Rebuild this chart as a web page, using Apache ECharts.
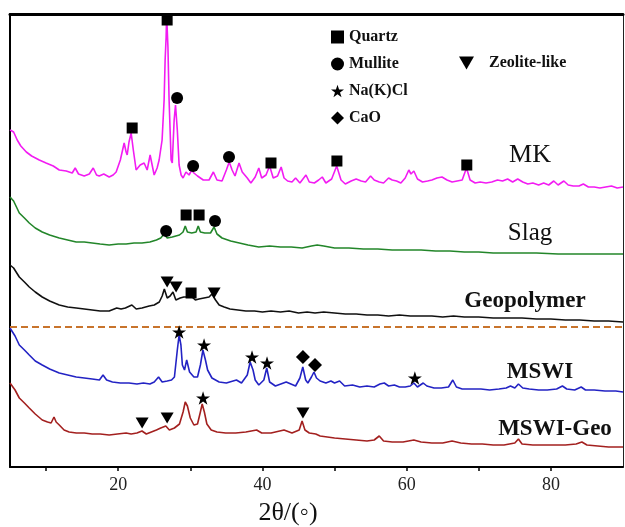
<!DOCTYPE html>
<html><head><meta charset="utf-8">
<script src="https://cdn.jsdelivr.net/npm/echarts@6/dist/echarts.min.js"></script>
<style>html,body{margin:0;padding:0;background:#fff}#c{width:625px;height:527px}</style>
</head><body><div id="c"></div>
<script>
// ---- data (2θ in degrees, relative intensity in arbitrary stacked units) ----
const xTicks = [10, 20, 30, 40, 50, 60, 70, 80];
const xTickLabels = [20, 40, 60, 80];
const traceNames = ['MK', 'Slag', 'Geopolymer', 'MSWI', 'MSWI-Geo'];
const separatorLevel = 140;

const mk = [[5.0,337],[5.5,335],[6.0,327],[6.5,321],[7.26,315],[8.0,311],[9.06,307],[10.0,304],[11.0,301],[11.83,297],[12.8,296],[13.63,294],[14.04,299],[14.5,293],[15.29,291],[16.0,293],[16.54,299],[17.0,292],[17.37,291],[18.0,293],[18.75,290],[19.3,292],[19.72,295],[20.3,307],[20.83,324],[21.1,315],[21.25,312],[21.5,325],[21.8,334],[22.1,317],[22.49,297],[23.05,302],[23.6,304],[24.02,297],[24.43,312],[24.99,292],[25.4,299],[25.68,307],[26.09,327],[26.37,367],[26.51,407],[26.65,430],[26.72,452],[26.9,420],[27.06,367],[27.34,307],[27.5,304],[27.76,347],[27.95,362],[28.2,337],[28.45,302],[28.73,292],[29.0,289],[29.4,295],[29.83,292],[30.2,297],[30.5,294],[31.0,291],[31.22,292],[31.8,287],[32.6,287],[33.2,295],[33.7,287],[34.4,286],[35.0,297],[35.4,305],[35.8,297],[36.2,291],[36.76,304],[37.2,295],[37.9,289],[38.4,284],[39.0,290],[39.5,299],[39.9,289],[40.5,292],[41.0,301],[41.5,289],[42.1,291],[42.6,300],[43.0,289],[43.5,286],[44.1,285],[44.6,289],[45.2,284],[46.04,292],[46.5,285],[47.2,284],[47.8,287],[48.3,290],[48.8,284],[49.6,288],[50.3,301],[50.9,287],[51.5,283],[52.3,286],[53.0,288],[53.7,286],[54.3,285],[55.0,291],[55.5,287],[56.2,285],[56.8,284],[57.5,289],[58.0,287],[58.6,286],[59.2,284],[59.8,289],[60.3,297],[60.6,293],[61.0,296],[61.5,288],[62.2,285],[62.9,286],[63.5,287],[64.2,289],[64.9,290],[65.6,287],[66.3,285],[67.0,286],[67.7,287],[68.3,299],[68.8,287],[69.5,284],[70.2,285],[71.0,284],[71.8,285],[72.6,287],[73.3,286],[74.0,288],[74.7,285],[75.4,288],[76.1,285],[76.8,283],[77.5,284],[78.3,282],[79.0,284],[79.7,282],[80.4,286],[81.0,282],[81.8,286],[82.4,282],[83.1,281],[83.9,281],[84.5,283],[85.2,280],[86.0,280],[86.8,279],[87.6,280],[88.4,281],[89.2,279],[90.0,280]];

const slag = [[5.0,270],[5.5,266],[6.29,254],[7.0,249],[7.67,244],[8.5,239],[9.47,235],[10.5,232],[11.83,229],[13.0,227],[14.18,225],[15.3,225],[16.4,224],[17.5,223],[18.75,222],[20.0,223],[21.1,223],[22.2,224],[23.3,224],[24.4,225],[25.3,227],[25.9,229],[26.37,233],[26.8,229],[27.5,230],[28.5,232],[29.0,235],[29.3,241],[29.6,235],[30.2,234],[30.8,235],[31.1,241],[31.4,235],[32.0,234],[32.8,234],[33.3,240],[33.7,233],[34.4,229],[35.6,226],[36.8,224],[38.0,222],[39.5,220],[41.0,221],[42.5,220],[44.0,220],[45.5,219],[46.8,221],[47.6,222],[48.5,221],[50.0,219],[52.0,219],[54.0,218],[56.0,218],[58.0,217],[60.0,217],[62.0,217],[64.0,216],[66.0,216],[68.0,215],[70.0,215],[72.0,214],[75.0,214],[78.0,214],[81.0,213],[84.0,213],[87.0,213],[90.0,213]];

const geopolymer = [[5.0,202],[5.5,199],[6.29,190],[7.0,185],[7.67,180],[8.5,175],[9.47,170],[10.5,166],[11.83,162],[13.0,160],[14.18,159],[15.3,158],[16.4,157],[17.5,156],[18.75,156],[19.8,159],[20.4,158],[21.0,159],[21.9,162],[22.5,158],[23.3,159],[24.3,161],[25.0,162],[25.7,165],[26.1,171],[26.4,178],[26.8,169],[27.2,171],[27.6,175],[28.0,167],[28.6,169],[29.1,170],[29.7,170],[30.1,171],[30.7,167],[31.2,168],[31.9,169],[32.6,170],[33.0,173],[33.5,167],[34.0,162],[34.7,160],[35.5,158],[36.6,157],[37.7,156],[38.9,156],[40.0,155],[41.2,156],[42.5,155],[43.7,156],[45.0,154],[46.2,155],[47.3,154],[48.5,155],[50.0,154],[51.5,153],[53.0,153],[54.5,152],[56.0,152],[57.5,151],[59.0,152],[60.5,151],[62.0,151],[63.5,151],[65.0,150],[66.5,151],[68.0,150],[70.0,150],[72.0,149],[74.0,149],[76.0,149],[78.0,148],[80.0,148],[82.0,147],[84.0,147],[86.0,146],[88.0,146],[90.0,145]];

const mswi = [[5.0,139],[5.2,137],[5.7,131],[6.29,122],[7.0,117],[7.67,112],[8.5,106],[9.47,102],[10.5,98],[11.83,94],[13.0,92],[14.18,90],[15.3,89],[16.4,88],[17.4,87],[17.9,92],[18.4,87],[19.2,85],[20.3,84],[21.5,84],[22.6,83],[23.5,84],[24.4,83],[25.0,85],[25.6,90],[26.1,85],[26.8,86],[27.4,87],[27.8,90],[28.2,117],[28.45,132],[28.7,122],[28.9,102],[29.2,97],[29.5,107],[29.9,95],[30.5,90],[31.0,90],[31.4,102],[31.75,117],[32.1,107],[32.4,97],[33.0,89],[34.0,85],[35.0,84],[36.4,87],[37.1,84],[37.9,92],[38.3,105],[38.7,97],[39.0,87],[39.5,82],[40.2,87],[40.6,99],[41.0,85],[41.8,81],[43.3,85],[44.6,81],[45.2,89],[45.6,100],[46.0,87],[46.3,84],[46.8,90],[47.15,95],[47.5,89],[48.0,86],[48.8,84],[49.5,86],[50.0,84],[50.7,86],[51.4,81],[52.5,82],[53.5,80],[54.5,81],[55.5,80],[56.3,83],[56.9,84],[57.5,81],[58.3,82],[59.0,80],[59.8,80],[60.5,81],[61.0,84],[61.5,80],[62.3,84],[62.8,81],[63.8,79],[64.8,79],[65.8,80],[66.4,87],[66.9,80],[67.7,78],[69.0,78],[70.3,78],[71.5,77],[72.8,78],[73.8,79],[74.4,81],[75.0,79],[75.5,83],[76.1,79],[77.0,78],[78.3,77],[79.5,77],[80.8,78],[81.6,81],[82.2,78],[83.3,77],[84.2,80],[84.8,77],[86.0,77],[87.5,76],[89.0,76],[90.0,75]];

const mswiGeo = [[5.0,84],[5.2,82],[5.7,77],[6.29,69],[7.0,64],[7.67,59],[8.5,53],[9.47,47],[10.2,45],[10.7,44],[11.1,50],[11.4,45],[11.83,42],[12.5,37],[13.2,35],[14.2,34],[15.3,34],[16.4,33],[17.5,33],[18.75,32],[19.9,33],[21.1,34],[21.8,33],[22.6,34],[23.3,36],[23.9,33],[24.6,35],[25.3,37],[25.9,39],[26.6,41],[27.1,37],[27.8,39],[28.5,43],[29.0,55],[29.3,65],[29.6,61],[30.0,49],[30.5,42],[31.0,43],[31.4,55],[31.65,63],[31.95,55],[32.3,43],[32.9,37],[33.7,35],[34.9,34],[36.3,34],[37.7,35],[39.2,37],[39.9,34],[41.2,34],[42.4,36],[43.0,37],[44.1,34],[45.1,37],[45.5,46],[45.9,37],[46.5,34],[47.4,33],[48.0,31],[49.0,30],[50.0,29],[51.5,28],[53.0,27],[54.5,26],[55.5,27],[56.2,31],[56.8,26],[58.0,25],[59.5,25],[61.0,27],[62.0,25],[63.5,24],[65.0,24],[66.3,26],[67.5,24],[69.0,23],[70.5,23],[72.0,22],[73.5,22],[75.0,24],[75.5,28],[76.0,23],[77.5,22],[79.0,22],[80.5,22],[82.0,22],[83.5,23],[84.3,25],[85.0,22],[86.5,21],[88.0,20],[90.0,20]];

// phase identification marks [2θ, level]
const quartzMarks = [[21.94,339],[26.79,447],[41.19,304],[50.33,306],[68.34,302],[29.42,252],[31.22,252],[30.11,174]];
const mulliteMarks = [[28.17,369],[30.39,301],[35.37,310],[26.65,236],[33.43,246]];
const naclMarks = [[28.45,135],[31.91,122],[38.56,110],[40.64,104],[61.14,89],[31.77,69]];
const caoMarks = [[45.62,110],[47.29,102]];
const zeoliteMarks = [[26.79,185],[28.03,180],[33.30,174],[23.32,44],[26.79,49],[45.62,54]];

// ---- chart ----
const STAR = 'path://M50 0 L61.8 35.5 L99 35.5 L69 57.5 L80.5 93 L50 71 L19.5 93 L31 57.5 L1 35.5 L38.2 35.5 Z';
const TRI = 'path://M0 0 L100 0 L50 86 Z';
const serif = '"Liberation Serif","Times New Roman",serif';
const lineColors = ['#f21cf2', '#23862a', '#111111', '#2323c4', '#a3201f'];
const traces = [mk, slag, geopolymer, mswi, mswiGeo];

const series = traces.map((d, i) => ({
  name: traceNames[i], type: 'line', data: d, showSymbol: false, symbol: 'none',
  lineStyle: { color: lineColors[i], width: 1.6 }, itemStyle: { color: lineColors[i] },
  silent: true, animation: false, z: 2,
  markLine: i === 2 ? {
    silent: true, symbol: ['none', 'none'], label: { show: false },
    lineStyle: { color: '#c8742c', type: [7, 4], width: 2 },
    data: [{ yAxis: separatorLevel }]
  } : undefined
}));

const markSeries = [
  ['Quartz', quartzMarks, 'rect', 11],
  ['Mullite', mulliteMarks, 'circle', 12],
  ['Na(K)Cl', naclMarks, STAR, 14],
  ['CaO', caoMarks, 'diamond', 14],
  ['Zeolite-like', zeoliteMarks, TRI, 13]
].map(([name, d, sym, size]) => ({
  name, type: 'scatter', data: d, symbol: sym, symbolSize: size, symbolKeepAspect: true,
  itemStyle: { color: '#000', opacity: 1 }, z: 5, animation: false
}));

const chart = echarts.init(document.getElementById('c'), null, { renderer: 'canvas' });
chart.setOption({
  animation: false,
  backgroundColor: '#fff',
  grid: { left: 10, right: 2, top: 14, bottom: 60 },
  legend: [
    {
      data: [
        { name: 'Quartz', icon: 'rect' },
        { name: 'Mullite', icon: 'circle' },
        { name: 'Na(K)Cl', icon: STAR },
        { name: 'CaO', icon: 'diamond' }
      ],
      orient: 'vertical', left: 326, top: 24, itemWidth: 13, itemHeight: 13, itemGap: 11,
      selectedMode: false,
      itemStyle: { opacity: 1, color: '#000' },
      textStyle: { fontFamily: serif, fontWeight: 'bold', fontSize: 16, color: '#111', lineHeight: 16 }
    },
    {
      data: [{ name: 'Zeolite-like', icon: TRI }],
      left: 454, top: 50, itemWidth: 15, itemHeight: 15, selectedMode: false,
      itemStyle: { opacity: 1, color: '#000' },
      textStyle: { fontFamily: serif, fontWeight: 'bold', fontSize: 16, color: '#111', padding: [-7, 0, 0, 10] }
    }
  ],
  xAxis: [
    {
      type: 'value', min: 5, max: 90, position: 'bottom',
      axisLine: { show: true, onZero: false, lineStyle: { color: '#000', width: 2 } },
      axisTick: { show: true, inside: false, length: 4, customValues: xTicks, lineStyle: { color: '#000', width: 1.5 } },
      axisLabel: { customValues: xTickLabels, margin: 9, fontFamily: serif, fontSize: 18, color: '#222' },
      splitLine: { show: false }
    },
    {
      type: 'value', min: 5, max: 90, position: 'top',
      axisLine: { show: true, onZero: false, lineStyle: { color: '#000', width: 3 } },
      axisTick: { show: false }, axisLabel: { show: false }, splitLine: { show: false }
    }
  ],
  yAxis: [
    {
      type: 'value', min: 0, max: 453, position: 'left',
      axisLine: { show: true, onZero: false, lineStyle: { color: '#000', width: 2 } },
      axisTick: { show: false }, axisLabel: { show: false }, splitLine: { show: false }
    },
    {
      type: 'value', min: 0, max: 453, position: 'right',
      axisLine: { show: true, onZero: false, lineStyle: { color: '#222', width: 1 } },
      axisTick: { show: false }, axisLabel: { show: false }, splitLine: { show: false }
    }
  ],
  graphic: [
    { type: 'text', x: 530, y: 155, style: { text: traceNames[0], font: '26px ' + serif, fill: '#111', align: 'center', verticalAlign: 'middle' } },
    { type: 'text', x: 530, y: 233, style: { text: traceNames[1], font: '25px ' + serif, fill: '#111', align: 'center', verticalAlign: 'middle' } },
    { type: 'text', x: 525, y: 301, style: { text: traceNames[2], font: 'bold 23px ' + serif, fill: '#111', align: 'center', verticalAlign: 'middle' } },
    { type: 'text', x: 540, y: 372, style: { text: traceNames[3], font: 'bold 23px ' + serif, fill: '#111', align: 'center', verticalAlign: 'middle' } },
    { type: 'text', x: 555, y: 429, style: { text: traceNames[4], font: 'bold 23px ' + serif, fill: '#111', align: 'center', verticalAlign: 'middle' } },
    { type: 'text', x: 288, y: 513, style: { text: '2θ/(◦)', font: '26px ' + serif, fill: '#111', align: 'center', verticalAlign: 'middle' } }
  ],
  series: series.concat(markSeries)
});
</script>
</body></html>
